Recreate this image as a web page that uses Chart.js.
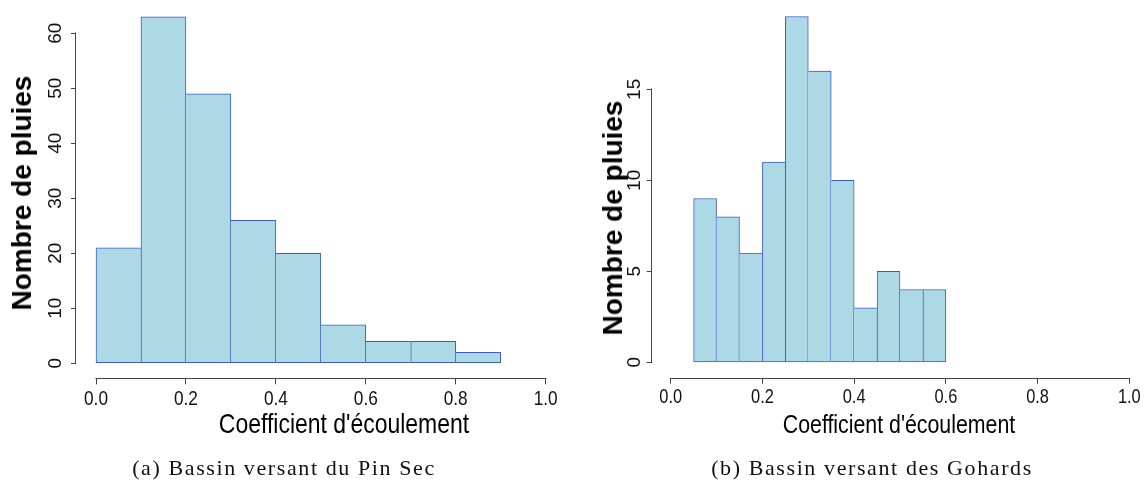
<!DOCTYPE html>
<html><head><meta charset="utf-8">
<script src="https://cdn.jsdelivr.net/npm/chart.js@4/dist/chart.umd.min.js"></script>
<style>
html,body{margin:0;padding:0;background:#fff;overflow:hidden;width:1145px;height:494px;position:relative;}
.panel{position:absolute;top:0;height:494px;}
.panel canvas{display:block}
.lbl{position:absolute;white-space:nowrap;color:#000;line-height:1;transform:translate(-50%,-50%);}
.ytitle{font-family:"Liberation Sans",Arial,sans-serif;font-size:28px;font-weight:bold;transform:translate(-50%,-50%) rotate(-90deg);}
.xtitle{font-family:"Liberation Sans",Arial,sans-serif;transform:translate(-50%,-50%) scaleX(0.82);}
.cap{font-family:"Liberation Serif","Times New Roman",serif;font-size:22px;letter-spacing:1.6px;color:#111;}
</style></head><body>
<div class="panel" style="left:0;width:572px"><canvas id="cA"></canvas></div>
<div class="panel" style="left:572px;width:574px"><canvas id="cB"></canvas></div>
<div class="lbl ytitle" style="left:22px;top:193px">Nombre de pluies</div>
<div class="lbl ytitle" style="left:613px;top:218px">Nombre de pluies</div>
<div class="lbl xtitle" style="left:344px;top:424px;font-size:28px">Coefficient d'écoulement</div>
<div class="lbl xtitle" style="left:899px;top:424px;font-size:26px">Coefficient d'écoulement</div>
<div class="lbl cap" style="left:284px;top:468px">(a) Bassin versant du Pin Sec</div>
<div class="lbl cap" style="left:872px;top:468px">(b) Bassin versant des Gohards</div>
<script>
// ---- data ----
const pinSecBinEdges = [0.0, 0.1, 0.2, 0.3, 0.4, 0.5, 0.6, 0.7, 0.8, 0.9];
const pinSecCounts   = [21, 63, 49, 26, 20, 7, 4, 4, 2];
const gohardsBinEdges = [0.05, 0.10, 0.15, 0.20, 0.25, 0.30, 0.35, 0.40, 0.45, 0.50, 0.55, 0.60];
const gohardsCounts   = [9, 8, 6, 11, 19, 16, 10, 3, 5, 4, 4];
const xTickValues = [0.0, 0.2, 0.4, 0.6, 0.8, 1.0];
const pinSecYTicks = [0, 10, 20, 30, 40, 50, 60];
const gohardsYTicks = [0, 5, 10, 15];

// R-style detached axis lines, drawn from the scales' own tick pixels
const axisLines = {
  id: 'axisLines',
  beforeDraw(chart) {
    // narrow (Helvetica-Narrow-like) x tick labels: compress the glyphs horizontally
    const s = chart.scales.x, ctx = chart.ctx;
    const items = s.getLabelItems(chart.chartArea);
    ctx.save();
    items.forEach(it => {
      ctx.font = it.font.string;
      it.options.maxWidth = ctx.measureText(it.label).width * 0.82;
    });
    ctx.restore();
  },
  afterDraw(chart, args, opts) {
    const {ctx, chartArea: ca, scales: {x, y}} = chart;
    const xt = x.ticks, yt = y.ticks;
    ctx.save();
    ctx.strokeStyle = opts.color || '#444';
    ctx.lineWidth = 1;
    ctx.beginPath();
    const lx = Math.round(ca.left) - 0.5;
    ctx.moveTo(lx, Math.round(y.getPixelForValue(yt[0].value)) + 0.5);
    ctx.lineTo(lx, Math.round(y.getPixelForValue(yt[yt.length - 1].value)) - 0.5);
    const ly = Math.round(ca.bottom) + 0.5;
    ctx.moveTo(Math.round(x.getPixelForValue(xt[0].value)) - 0.5, ly);
    ctx.lineTo(Math.round(x.getPixelForValue(xt[xt.length - 1].value)) + 0.5, ly);
    ctx.stroke();
    ctx.restore();
  }
};

function makeHist(id, edges, counts, yTicks, L) {
  const centers = edges.slice(0, -1).map((e, i) => (e + edges[i + 1]) / 2);
  const bw = (ctx) => {
    const i = ctx.dataIndex, c = counts[i];
    const prev = counts[i - 1], next = counts[i + 1];
    return {
      top: 1, bottom: 1,
      left: (prev === undefined || prev <= c) ? 1 : 0,
      right: (next === undefined || next < c) ? 1 : 0
    };
  };
  return new Chart(document.getElementById(id), {
    type: 'bar',
    data: {
      datasets: [{
        data: centers.map((c, i) => ({x: c, y: counts[i]})),
        backgroundColor: '#ADD8E6',
        borderColor: '#3D5CC2',
        borderWidth: bw,
        borderSkipped: false,
        barPercentage: 1,
        categoryPercentage: 1
      }]
    },
    options: {
      responsive: true, maintainAspectRatio: false, animation: false,
      layout: {padding: L.pad},
      plugins: {legend: {display: false}, tooltip: {enabled: false}, axisLines: {color: '#444'}},
      scales: {
        x: {
          type: 'linear', min: L.xMin, max: L.xMax, offset: false,
          afterBuildTicks: s => { s.ticks = xTickValues.map(v => ({value: v})); },
          afterFit: s => { s.height = L.xH; s.paddingLeft = 0; s.paddingRight = 0; },
          grid: {display: true, drawOnChartArea: false, drawTicks: true, tickLength: 6, color: '#444', offset: false},
          border: {display: false},
          ticks: {
            autoSkip: false, minRotation: 0, maxRotation: 0, padding: 2, color: '#111',
            font: {family: '"Liberation Sans",Arial,sans-serif', size: L.xFont},
            callback: v => Number(v).toFixed(1)
          }
        },
        y: {
          type: 'linear', min: L.yMin, max: L.yMax,
          afterBuildTicks: s => { s.ticks = yTicks.map(v => ({value: v})); },
          afterFit: s => { s.width = L.yW; s.paddingTop = 0; s.paddingBottom = 0; },
          grid: {display: true, drawOnChartArea: false, drawTicks: true, tickLength: 5, color: '#444'},
          border: {display: false},
          ticks: {
            autoSkip: false, minRotation: 90, maxRotation: 90, crossAlign: 'center',
            padding: L.yPad, color: '#111',
            font: {family: '"Liberation Sans",Arial,sans-serif', size: 19}
          }
        }
      }
    },
    plugins: [axisLines]
  });
}

makeHist('cA', pinSecBinEdges, pinSecCounts, pinSecYTicks, {
  pad: {left: 0, top: 2.9, right: 8.4, bottom: 0},
  xMin: -0.0445, xMax: 1.04, xH: 115.7, xFont: 21,
  yMin: -2.73, yMax: 65.52, yW: 76, yPad: 5
});
makeHist('cB', gohardsBinEdges, gohardsCounts, gohardsYTicks, {
  pad: {left: 0, top: 2.7, right: 0.65, bottom: 0},
  xMin: -0.04143, xMax: 1.035, xH: 116.3, xFont: 20,
  yMin: -0.846, yMax: 19.76, yW: 79.7, yPad: 1
});
</script>
</body></html>
